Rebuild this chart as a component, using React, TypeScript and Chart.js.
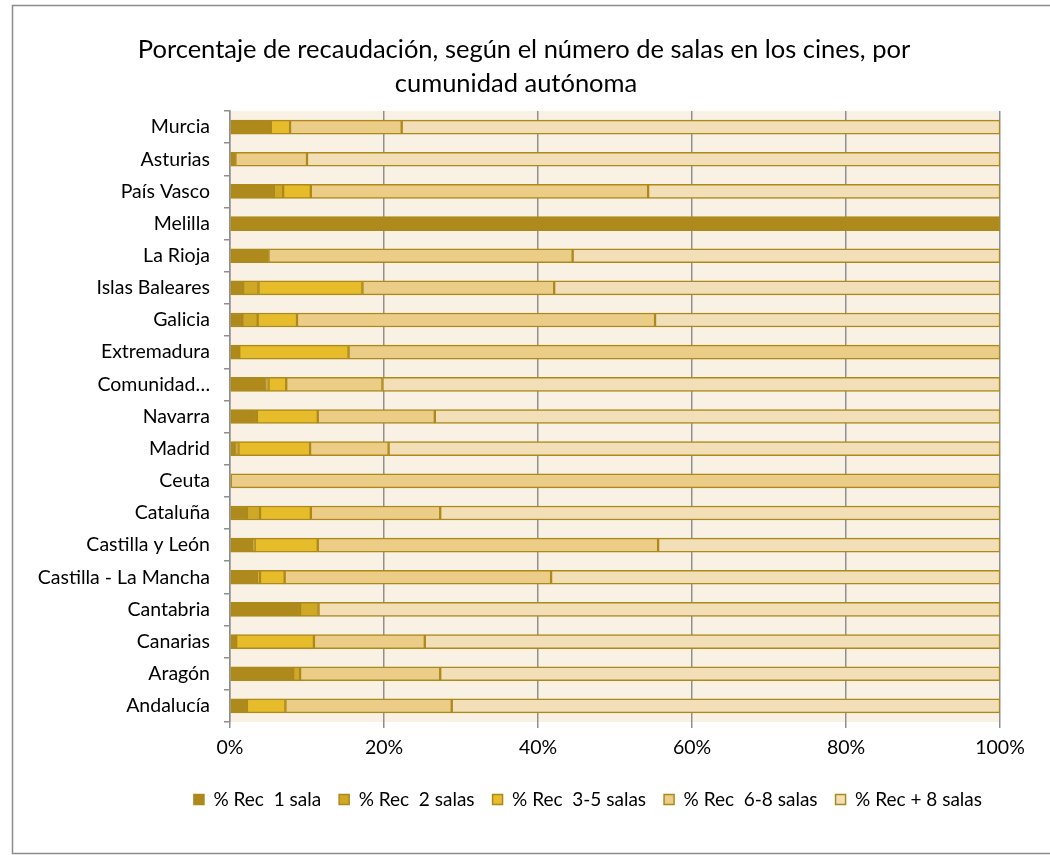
import React, { useEffect, useRef } from "react";
import { Chart, registerables } from "chart.js";

Chart.register(...registerables);

const categories = [
  "Murcia",
  "Asturias",
  "País Vasco",
  "Melilla",
  "La Rioja",
  "Islas Baleares",
  "Galicia",
  "Extremadura",
  "Comunidad…",
  "Navarra",
  "Madrid",
  "Ceuta",
  "Cataluña",
  "Castilla y León",
  "Castilla - La Mancha",
  "Cantabria",
  "Canarias",
  "Aragón",
  "Andalucía",
];

const rec1Sala = [5.3, 0.7, 5.7, 100, 5.0, 1.7, 1.6, 1.2, 4.6, 3.5, 0.7, 0, 2.2, 3.0, 3.5, 9.1, 0.8, 8.2, 2.2];
const rec2Salas = [0, 0, 1.2, 0, 0, 2.0, 2.0, 0, 0.4, 0, 0.4, 0, 1.7, 0.2, 0.4, 2.4, 0, 0.9, 0];
const rec3a5Salas = [2.5, 0, 3.6, 0, 0, 13.5, 5.1, 14.2, 2.3, 7.9, 9.3, 0, 6.6, 8.2, 3.2, 0, 10.1, 0, 5.0];
const rec6a8Salas = [14.5, 9.3, 43.8, 0, 39.5, 24.9, 46.5, 84.6, 12.5, 15.2, 10.2, 100, 16.8, 44.2, 34.6, 0, 14.4, 18.2, 21.6];
const recMas8Salas = [77.7, 90.0, 45.7, 0, 55.5, 57.9, 44.8, 0, 80.2, 73.4, 79.4, 0, 72.7, 44.4, 58.3, 88.5, 74.7, 72.7, 71.2];

const seriesLabels = [
  "% Rec  1 sala",
  "% Rec  2 salas",
  "% Rec  3-5 salas",
  "% Rec  6-8 salas",
  "% Rec + 8 salas",
];
const seriesColors = ["#AE8A1C", "#CFA826", "#E6BC2B", "#ECCD88", "#F2DFB8"];
const xTicks = [0, 20, 40, 60, 80, 100];

const titleLines = [
  "Porcentaje de recaudación, según el número de salas en los cines, por",
  "cumunidad autónoma",
];

const FONT = "Lato, 'Open Sans', sans-serif";

export default function App() {
  const canvasRef = useRef<HTMLCanvasElement | null>(null);

  useEffect(() => {
    const canvas = canvasRef.current;
    if (!canvas) return;
    const values = [rec1Sala, rec2Salas, rec3a5Salas, rec6a8Salas, recMas8Salas];

    const bgPlugin = {
      id: "bgPlugin",
      beforeDraw(chart: any) {
        const { ctx, chartArea } = chart;
        ctx.save();
        ctx.fillStyle = "#ffffff";
        ctx.fillRect(0, 0, chart.width, chart.height);
        ctx.strokeStyle = "#8c8c8c";
        ctx.lineWidth = 1.5;
        ctx.strokeRect(12.5, 5.5, chart.width + 20, 848);
        ctx.fillStyle = "#F8F1E4";
        ctx.fillRect(chartArea.left, chartArea.top, chartArea.right - chartArea.left, chartArea.bottom - chartArea.top);
        ctx.restore();
      },
      afterDraw(chart: any) {
        const { ctx } = chart;
        ctx.save();
        ctx.fillStyle = "#000";
        ctx.font = "25.5px " + FONT;
        ctx.textAlign = "center";
        ctx.textBaseline = "middle";
        ctx.fillText(titleLines[0], 524, 50);
        ctx.fillText(titleLines[1], 516, 84);
        ctx.restore();
      },
    };

    const chart = new Chart(canvas, {
      type: "bar",
      data: {
        labels: categories,
        datasets: values.map((v, i) => ({
          label: seriesLabels[i],
          data: v,
          backgroundColor: seriesColors[i],
          borderColor: "#AD891C",
          borderWidth: 1.5,
          borderSkipped: false,
          barThickness: 14,
        })),
      },
      options: {
        indexAxis: "y",
        animation: false,
        responsive: false,
        maintainAspectRatio: false,
        layout: { padding: { left: 12, right: 50, top: 111, bottom: 36 } },
        scales: {
          x: {
            stacked: true,
            min: 0,
            max: 100,
            afterBuildTicks(scale: any) {
              scale.ticks = xTicks.map((v) => ({ value: v }));
            },
            afterFit(scale: any) {
              scale.height = 50;
            },
            ticks: {
              callback: (v: any) => v + "%",
              font: { family: FONT, size: 19.5 },
              color: "#000",
              padding: 8,
              maxRotation: 0,
            },
            grid: {
              color: "#8f8f8f",
              lineWidth: 1.5,
              tickLength: 6,
              drawTicks: true,
            },
            border: { display: false },
          },
          y: {
            stacked: true,
            afterFit(scale: any) {
              scale.width = 218;
            },
            ticks: {
              font: { family: FONT, size: 19.5 },
              color: "#000",
              padding: 14,
              autoSkip: false,
            },
            grid: {
              drawOnChartArea: false,
              drawTicks: true,
              tickLength: 6,
              color: "#8f8f8f",
              lineWidth: 1.5,
            },
            border: { display: true, color: "#8f8f8f", width: 1.5 },
          },
        },
        plugins: {
          title: { display: false },
          legend: {
            position: "bottom",
            align: "end",
            labels: {
              font: { family: FONT, size: 19 },
              color: "#000",
              boxWidth: 10,
              boxHeight: 10,
              padding: 18,
              useBorderRadius: false,
            },
          },
          tooltip: { enabled: false },
        },
      },
      plugins: [bgPlugin],
    } as any);

    return () => chart.destroy();
  }, []);

  return (
    <div style={{ position: "fixed", left: 0, top: 0, width: 1050, height: 855, background: "#fff" }}>
      <canvas ref={canvasRef} width={1050} height={855} style={{ width: 1050, height: 855, display: "block" }} />
    </div>
  );
}
